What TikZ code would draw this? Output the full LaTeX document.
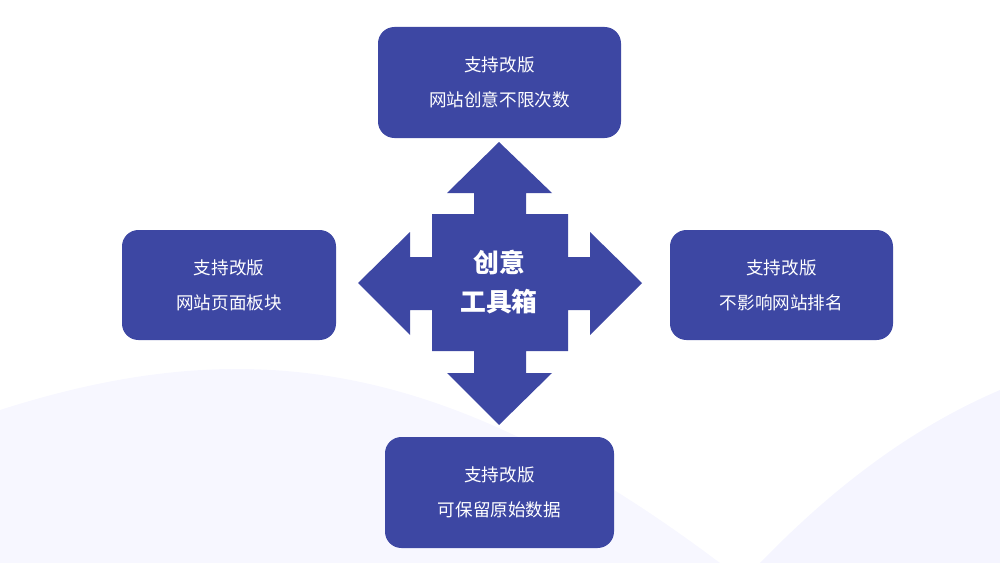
\documentclass[tikz,border=0pt]{standalone}
\usepackage{fontspec}
\newfontfamily\cjk{Noto Sans CJK SC}
\definecolor{boxblue}{HTML}{3D47A3}
\begin{document}
\begin{tikzpicture}[x = 0.03cm, y = -0.03cm, font = \cjk]
    \tikzset{
      infobox/.style={fill=boxblue, rounded corners=14pt, text=white, align=center,
        font=\cjk\fontsize{15}{30}\selectfont, inner sep=0pt},
      crosslabel/.style={text=white, align=center, font=\cjk\bfseries\fontsize{22}{34}\selectfont}
    }
    \useasboundingbox (0,0) rectangle (1000,563);
    % faint background waves
    \fill[blue!3] (0,410) .. controls (250,330) and (450,360) .. (720,563) -- (0,563) -- cycle;
    \fill[blue!4] (760,563) .. controls (850,470) and (930,420) .. (1000,390) -- (1000,563) -- cycle;
    % four boxes
    \begin{scope}[every node/.style={infobox}]
    \node[minimum width=243*0.03cm, minimum height=111*0.03cm] (top) at (499.5,82.5) {支持改版\\网站创意不限次数};
    \node[minimum width=214*0.03cm, minimum height=110*0.03cm] (left) at (229,285) {支持改版\\网站页面板块};
    \node[minimum width=223*0.03cm, minimum height=110*0.03cm] (right) at (781.5,285) {支持改版\\不影响网站排名};
    \node[minimum width=229*0.03cm, minimum height=111*0.03cm] (bottom) at (499.5,492.5) {支持改版\\可保留原始数据};
    \end{scope}
    % cross of arrows
    \fill[boxblue] (499,142) -- (552,193) -- (526,193) -- (526,214) -- (568,214)
      -- (568,257) -- (590,257) -- (590,232) -- (642,283) -- (590,335) -- (590,310)
      -- (568,310) -- (568,351) -- (526,351) -- (526,373) -- (552,373) -- (499,425)
      -- (447,373) -- (474,373) -- (474,351) -- (432,351) -- (432,310) -- (410,310)
      -- (410,335) -- (358,283) -- (410,232) -- (410,257) -- (432,257) -- (432,214)
      -- (474,214) -- (474,193) -- (447,193) -- cycle;
    \node[crosslabel] (tool) at (499,282) {创意\\工具箱};
\end{tikzpicture}
\end{document}
